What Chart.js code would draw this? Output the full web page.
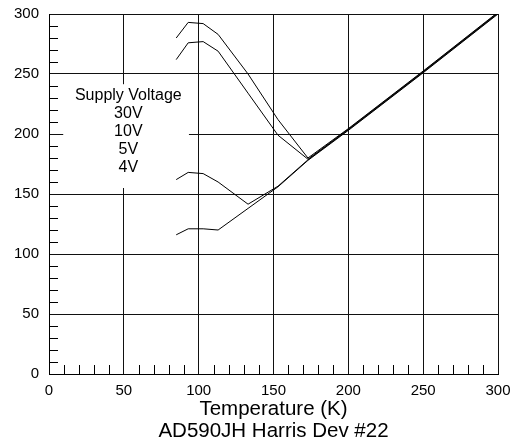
<!DOCTYPE html>
<html>
<head>
<meta charset="utf-8">
<title>AD590JH Harris Dev #22</title>
<script src="https://cdn.jsdelivr.net/npm/chart.js@4/dist/chart.umd.min.js"></script>
<style>
    html, body { margin: 0; padding: 0; background: #fff; }
    #wrap { width: 516px; height: 444px; position: relative; }
</style>
</head>
<body>
<div id="wrap"><canvas id="chart"></canvas></div>
<script>
// Supply current (uA) vs temperature (K), one series per supply voltage
const temps = [85, 93, 103, 113, 133, 153, 173, 200, 250, 300];
const i30V = [280, 293, 292, 283, 250, 212, 180, 204.5, 252.5, 301.5];
const i10V = [262, 276, 277, 269, 234, 199, 179, 204, 252, 301];
const i5V = [162, 168, 167, 160, 141.5, 156.5, 178.5, 203.5, 251.5, 300.5];
const i4V = [116, 121, 121, 120, 138, 156, 178, 203, 251, 300];

const seriesNames = ['30V', '10V', '5V', '4V'];
const legendLines = ['Supply Voltage', '30V', '10V', '5V', '4V'];
const axisTicks = [0, 50, 100, 150, 200, 250, 300];
const xTitle = ['Temperature (K)', 'AD590JH Harris Dev #22'];

Chart.defaults.font.family = "'Liberation Sans', Arial, sans-serif";
Chart.defaults.color = '#000';

function toPoints(values) {
    return temps.map((t, i) => ({ x: t, y: values[i] }));
}

/**
 * Minor inside ticks + the white "Supply Voltage" text box
 */
const extras = {
    id: 'extras',
    beforeDatasetsDraw(chart) {
        const { ctx, chartArea, scales: { x, y } } = chart;
        ctx.save();

        // text box covering the grid
        const bx0 = x.getPixelForValue(9.5);
        const bx1 = x.getPixelForValue(93.5);
        const by0 = y.getPixelForValue(241.5);
        const by1 = y.getPixelForValue(155);
        ctx.fillStyle = '#fff';
        ctx.fillRect(bx0, by0, bx1 - bx0, by1 - by0);

        ctx.fillStyle = '#000';
        ctx.font = "16px 'Liberation Sans', Arial, sans-serif";
        ctx.textAlign = 'center';
        ctx.textBaseline = 'middle';
        const cx = x.getPixelForValue(53);
        let ty = y.getPixelForValue(232);
        legendLines.forEach(line => {
            ctx.fillText(line, cx, ty);
            ty += 18;
        });

        // minor ticks every 10 units, drawn inwards
        ctx.strokeStyle = '#000';
        ctx.lineWidth = 1;
        ctx.beginPath();
        for (let v = 10; v < 300; v += 10) {
            if (v % 50 === 0) continue;
            const py = Math.round(y.getPixelForValue(v)) + 0.5;
            ctx.moveTo(chartArea.left, py);
            ctx.lineTo(chartArea.left + 9, py);
            const px = Math.round(x.getPixelForValue(v)) + 0.5;
            ctx.moveTo(px, chartArea.bottom);
            ctx.lineTo(px, chartArea.bottom - 9);
        }
        ctx.stroke();
        ctx.restore();
    }
};

const gridOpts = { color: '#111', lineWidth: 1, drawTicks: false };
const tickFont = { size: 15 };

new Chart(document.getElementById('chart'), {
    type: 'line',
    data: {
        datasets: [i30V, i10V, i5V, i4V].map((vals, i) => ({
            label: seriesNames[i],
            data: toPoints(vals),
            borderColor: '#000',
            borderWidth: 1,
            pointRadius: 0,
            tension: 0,
            fill: false
        }))
    },
    options: {
        responsive: true,
        maintainAspectRatio: false,
        animation: false,
        layout: { padding: { top: 14, right: 18, left: 0, bottom: 0 } },
        plugins: {
            legend: { display: false },
            tooltip: { enabled: false }
        },
        scales: {
            x: {
                type: 'linear',
                min: 0,
                max: 300,
                afterBuildTicks: s => { s.ticks = axisTicks.map(v => ({ value: v })); },
                afterFit: s => {
                    s.height = 70;
                    s.paddingLeft = 0;
                    s.paddingRight = 0;
                },
                grid: gridOpts,
                border: { color: '#000', width: 1 },
                ticks: { font: tickFont, padding: 8, maxRotation: 0 },
                title: {
                    display: true,
                    text: xTitle,
                    font: { size: 20.5, lineHeight: 1.07 },
                    padding: { top: 0, bottom: 2 }
                }
            },
            y: {
                type: 'linear',
                min: 0,
                max: 300,
                afterBuildTicks: s => { s.ticks = axisTicks.map(v => ({ value: v })); },
                afterFit: s => {
                    s.width = 49;
                    s.paddingTop = 0;
                    s.paddingBottom = 0;
                },
                grid: gridOpts,
                border: { color: '#000', width: 1 },
                ticks: { font: tickFont, padding: 10 }
            }
        }
    },
    plugins: [extras]
});
</script>
</body>
</html>
